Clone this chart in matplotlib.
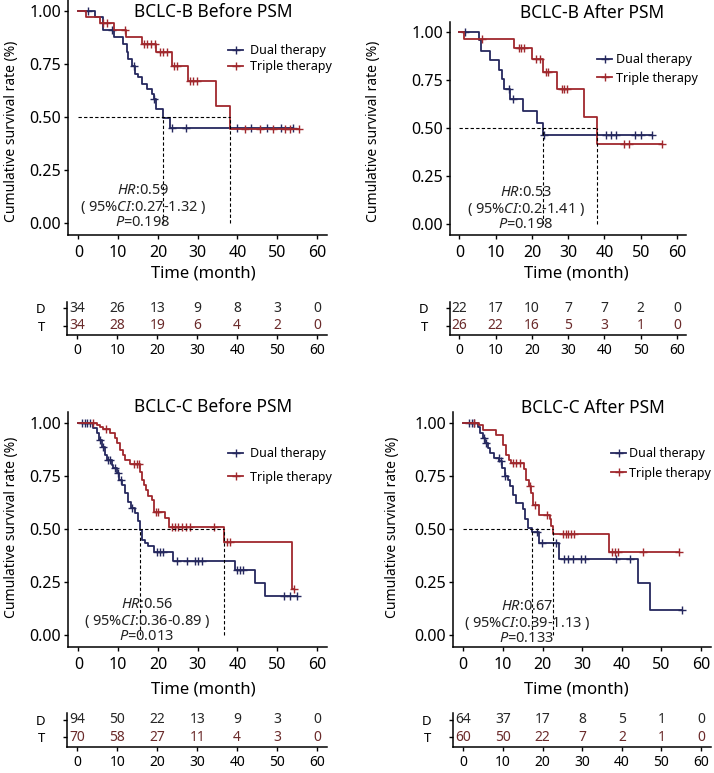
import numpy as np
import matplotlib.pyplot as plt
from matplotlib.lines import Line2D

plt.rcParams['font.family'] = ['Noto Sans', 'DejaVu Sans']
plt.rcParams['mathtext.fontset'] = 'custom'
plt.rcParams['mathtext.rm'] = 'Noto Sans'
plt.rcParams['mathtext.it'] = 'Noto Sans:italic'
plt.rcParams['axes.linewidth'] = 1.1

W, H = 714, 773
dual_col = '#25285e'
triple_col = '#a0282d'
d_txt_col = '#262626'
t_txt_col = '#6a2a2a'

time_ticks = [0, 10, 20, 30, 40, 50, 60]
surv_ticks = [0.0, 0.25, 0.5, 0.75, 1.0]
arm_names = ['Dual therapy', 'Triple therapy']
row_names = ['D', 'T']

# BCLC-B before PSM
bb_dual_t = [4.2, 6.3, 9.0, 11.3, 12.2, 12.6, 13.4, 14.3, 15.1, 15.9, 17.2, 18.5, 18.9, 19.5, 21.4, 23.0]
bb_dual_s = [0.97, 0.91, 0.877, 0.845, 0.806, 0.774, 0.742, 0.703, 0.687, 0.656, 0.632, 0.608, 0.585, 0.537, 0.497, 0.45]
bb_dual_c = [2.5, 8.5, 14.0, 19.0, 23.5, 27.0, 40.0, 43.5, 47.5, 51.0, 54.0]
bb_trip_t = [2.0, 5.5, 9.0, 12.0, 16.0, 19.5, 23.5, 27.5, 34.5, 38.0]
bb_trip_s = [0.97, 0.94, 0.91, 0.877, 0.845, 0.806, 0.742, 0.668, 0.553, 0.442]
bb_trip_c = [6.3, 7.1, 11.7, 16.5, 17.2, 18.2, 19.3, 20.5, 21.4, 22.2, 24.0, 24.7, 28.1, 28.9, 29.8,
             42.0, 45.7, 49.0, 52.0, 53.3, 55.5]
bb_risk_d = [34, 26, 13, 9, 8, 3, 0]
bb_risk_t = [34, 28, 19, 6, 4, 2, 0]

# BCLC-B after PSM
ba_dual_t = [5.5, 6.0, 8.5, 11.0, 11.8, 12.2, 14.0, 17.5, 21.5, 23.0]
ba_dual_s = [0.955, 0.90, 0.855, 0.80, 0.752, 0.705, 0.65, 0.588, 0.527, 0.463]
ba_dual_c = [1.6, 13.7, 14.7, 23.3, 40.4, 41.8, 43.2, 48.3, 50.2, 53.0]
ba_trip_t = [1.2, 15.0, 20.0, 23.0, 27.0, 34.5, 38.0]
ba_trip_s = [0.962, 0.917, 0.856, 0.792, 0.70, 0.558, 0.416]
ba_trip_c = [6.3, 16.4, 17.0, 17.9, 21.2, 22.1, 24.0, 24.5, 28.2, 28.9, 29.6, 45.5, 46.9, 55.8]
ba_risk_d = [22, 17, 10, 7, 7, 2, 0]
ba_risk_t = [26, 22, 16, 5, 3, 1, 0]

# BCLC-C before PSM
cb_dual_t = [3.8, 4.6, 5.3, 5.9, 6.7, 7.1, 8.4, 8.8, 9.6, 10.3, 10.9, 11.7, 12.4, 13.3, 14.3, 15.0,
             15.6, 16.0, 16.8, 17.6, 19.0, 23.9, 39.5, 44.5, 47.0]
cb_dual_s = [0.973, 0.95, 0.919, 0.887, 0.848, 0.822, 0.80, 0.786, 0.762, 0.73, 0.708, 0.669, 0.625,
             0.598, 0.575, 0.536, 0.497, 0.45, 0.434, 0.419, 0.39, 0.348, 0.309, 0.245, 0.183]
cb_dual_c = [0.8, 1.7, 2.3, 2.9, 5.5, 6.2, 7.5, 8.0, 9.2, 10.0, 10.8, 13.5, 19.7, 20.5, 21.3, 24.7,
             27.3, 29.4, 30.2, 31.0, 39.8, 40.7, 41.5, 51.6, 53.3, 55.0]
cb_trip_t = [4.6, 5.5, 6.3, 8.0, 9.2, 9.8, 10.5, 11.2, 11.7, 13.0, 15.5, 16.0, 16.4, 17.0, 17.6,
             18.5, 19.0, 21.8, 22.7, 36.7, 53.8]
cb_trip_s = [0.989, 0.98, 0.969, 0.95, 0.927, 0.903, 0.872, 0.848, 0.825, 0.806, 0.77, 0.73, 0.708,
             0.684, 0.653, 0.637, 0.578, 0.551, 0.508, 0.44, 0.22]
cb_trip_c = [3.8, 7.0, 14.0, 14.8, 15.2, 19.5, 20.0, 23.5, 24.3, 25.0, 26.0, 27.0, 28.0, 34.0,
             37.3, 38.2, 54.1]
cb_risk_d = [94, 50, 22, 13, 9, 3, 0]
cb_risk_t = [70, 58, 27, 11, 4, 3, 0]

# BCLC-C after PSM
ca_dual_t = [3.6, 4.2, 4.9, 5.6, 6.2, 6.8, 7.7, 9.1, 9.8, 10.4, 11.2, 11.8, 12.5, 13.2, 15.0, 15.6,
             16.3, 17.3, 19.2, 24.1, 44.1, 47.1]
ca_dual_s = [0.98, 0.95, 0.927, 0.903, 0.88, 0.857, 0.833, 0.818, 0.787, 0.748, 0.732, 0.70, 0.662,
             0.623, 0.592, 0.545, 0.506, 0.486, 0.433, 0.361, 0.244, 0.121]
ca_dual_c = [1.5, 2.3, 2.8, 5.3, 5.7, 8.9, 9.4, 10.6, 18.5, 19.8, 23.5, 25.3, 26.4, 27.7, 29.8,
             30.6, 38.6, 42.0, 55.1]
ca_trip_t = [4.0, 5.0, 8.3, 10.0, 10.8, 11.5, 12.1, 15.4, 15.9, 16.5, 17.1, 17.7, 19.2, 21.8, 22.2,
             22.6, 36.8]
ca_trip_s = [0.989, 0.966, 0.942, 0.895, 0.849, 0.826, 0.81, 0.782, 0.732, 0.70, 0.67, 0.611, 0.564,
             0.545, 0.514, 0.475, 0.393]
ca_trip_c = [2.8, 12.5, 13.3, 14.2, 16.8, 18.0, 21.0, 25.1, 25.8, 26.5, 27.2, 28.0, 37.6, 38.2,
             39.0, 45.4, 54.3]
ca_risk_d = [64, 37, 17, 8, 5, 1, 0]
ca_risk_t = [60, 50, 22, 7, 2, 1, 0]


def box(l, t, r, b):
    return [l / W, 1 - b / H, (r - l) / W, (b - t) / H]


def fpos(x, y):
    return (x / W, 1 - y / H)


def draw_arm(ax, times, surv, cens, color):
    times = np.array(times)
    surv = np.array(surv)
    cens = np.array(cens)
    end = max(times.max(), cens.max())
    ax.step(np.r_[0, times, end], np.r_[1, surv, surv[-1]], where='post', color=color, lw=1.3)
    idx = np.searchsorted(times, cens, side='right')
    ax.plot(cens, np.r_[1, surv][idx], '+', color=color, ms=6, mew=1)
    return times[np.argmax(surv <= 0.5)]


def km_panel(fig, km_box, tab_box, title, title_xy, dual, trip, risk_d, risk_t,
             stats, stats_x, stats_y, leg_xy, leg_space, leg_pad, xlab_xy, ylab_xy):
    ax = fig.add_axes(box(*km_box))
    m_d = draw_arm(ax, *dual, dual_col)
    m_t = draw_arm(ax, *trip, triple_col)
    ax.plot([0, max(m_d, m_t)], [0.5, 0.5], color='k', ls=(0, (3, 2)), lw=0.8)
    for m in [m_d, m_t]:
        ax.plot([m, m], [0, 0.5], color='k', ls=(0, (3, 2)), lw=0.8)
    ax.set_xlim(-2.6, 62.5)
    ax.set_ylim(-0.055, 1.05)
    ax.spines[['top', 'right']].set_visible(False)
    ax.set_xticks(time_ticks)
    ax.set_yticks(surv_ticks)
    ax.set_yticklabels(['%.2f' % v for v in surv_ticks])
    ax.tick_params(length=3, width=1, labelsize=11.5, pad=2)
    ax.tick_params(axis='x', pad=4)

    hd = [Line2D([], [], color=dual_col, marker='+', ms=6, lw=1.3),
          Line2D([], [], color=triple_col, marker='+', ms=6, lw=1.3)]
    ax.legend(hd, arm_names, loc='center left', bbox_to_anchor=fpos(*leg_xy),
              bbox_transform=fig.transFigure, frameon=False, fontsize=9, borderpad=0,
              handlelength=1.2, handletextpad=leg_pad, labelspacing=leg_space)

    fig.text(*fpos(*title_xy), title, ha='center', va='center', fontsize=12.5)
    fig.text(*fpos(*xlab_xy), 'Time (month)', ha='center', va='center', fontsize=12)
    fig.text(*fpos(*ylab_xy), 'Cumulative survival rate (%)', ha='center', va='center',
             rotation=90, fontsize=10)
    for line, y in zip(stats, stats_y):
        fig.text(*fpos(stats_x, y), line, ha='center', va='center', fontsize=10.5, color='#222222')

    tax = fig.add_axes(box(*tab_box))
    tax.set_xlim(-2.6, 62.5)
    tax.set_ylim(-0.55, 1.38)
    tax.spines[['top', 'right']].set_visible(False)
    tax.set_xticks(time_ticks)
    tax.set_yticks([1, 0])
    tax.set_yticklabels(row_names)
    tax.tick_params(length=3, width=1, labelsize=10, pad=3)
    tax.tick_params(axis='y', labelsize=9.5, pad=13)
    for i, t in enumerate(time_ticks):
        tax.text(t, 1, str(risk_d[i]), ha='center', va='center', fontsize=10, color=d_txt_col)
        tax.text(t, 0, str(risk_t[i]), ha='center', va='center', fontsize=10, color=t_txt_col)


fig = plt.figure(figsize=(W / 100, H / 100), dpi=100)

km_panel(fig, (68, 0, 327, 235), (67, 302, 327, 335), 'BCLC-B Before PSM', (213, 12),
         (bb_dual_t, bb_dual_s, bb_dual_c), (bb_trip_t, bb_trip_s, bb_trip_c), bb_risk_d, bb_risk_t,
         ['$\\it{HR}$:0.59', '( 95%$\\it{CI}$:0.27-1.32 )', '$\\it{P}$=0.198'], 143, [190, 207, 223],
         (222, 58.5), 0.25, 0.5, (203, 273), (12, 131))

km_panel(fig, (450, 22, 686, 235), (450, 302, 686, 335), 'BCLC-B After PSM', (592, 13),
         (ba_dual_t, ba_dual_s, ba_dual_c), (ba_trip_t, ba_trip_s, ba_trip_c), ba_risk_d, ba_risk_t,
         ['$\\it{HR}$:0.53', '( 95%$\\it{CI}$:0.2-1.41 )', '$\\it{P}$=0.198'], 526, [192, 209, 225],
         (591, 69), 0.45, 0.3, (576, 273), (373, 131))

km_panel(fig, (68, 412, 327, 647), (67, 713, 327, 747), 'BCLC-C Before PSM', (213, 407),
         (cb_dual_t, cb_dual_s, cb_dual_c), (cb_trip_t, cb_trip_s, cb_trip_c), cb_risk_d, cb_risk_t,
         ['$\\it{HR}$:0.56', '( 95%$\\it{CI}$:0.36-0.89 )', '$\\it{P}$=0.013'], 147, [604, 621, 637],
         (222, 465.5), 0.85, 0.5, (203, 689), (12, 527))

km_panel(fig, (453, 412, 711, 647), (453, 713, 711, 747), 'BCLC-C After PSM', (593, 408),
         (ca_dual_t, ca_dual_s, ca_dual_c), (ca_trip_t, ca_trip_s, ca_trip_c), ca_risk_d, ca_risk_t,
         ['$\\it{HR}$:0.67', '( 95%$\\it{CI}$:0.39-1.13 )', '$\\it{P}$=0.133'], 527, [607, 623, 639],
         (605, 463.5), 0.5, 0.2, (576, 689), (392, 527))

fig.savefig('out.png', dpi=100)
